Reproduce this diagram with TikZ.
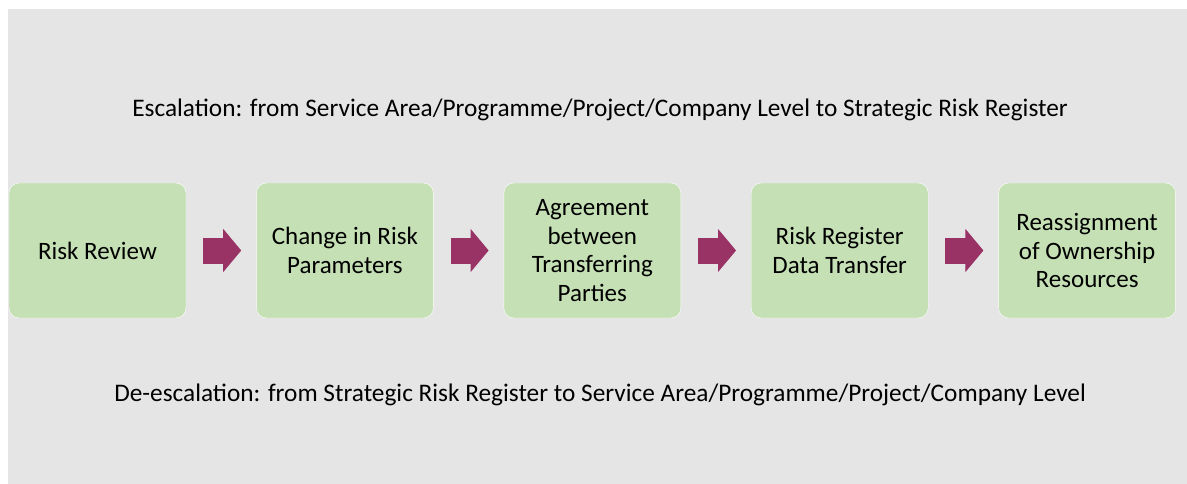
\documentclass[tikz,border=0pt]{standalone}
\usepackage{fontspec}
\setmainfont{Carlito}
\usetikzlibrary{positioning}
\usetikzlibrary{arrows.meta}

\definecolor{bggray}{RGB}{229,229,229}
\definecolor{boxgreen}{RGB}{197,224,180}
\definecolor{plum}{RGB}{153,51,102}

\begin{document}
\begin{tikzpicture}[
x=1pt,y=-1pt,
stage/.style={
	% The shape:
	rectangle,rounded corners=10pt,
	% The size:
	minimum width=177pt,minimum height=135pt,
	% The border:
	thin,draw=white,
	% The filling:
	fill=boxgreen,
	% Font
	align=center,font=\fontsize{25}{28.5}\selectfont},
banner/.style={anchor=base,font=\fontsize{25.3}{30}\selectfont},
push/.style={
	draw=plum,line width=26pt,
	-{Triangle[length=18pt,width=43pt,line width=1pt,fill=plum]},
	shorten <=17pt,shorten >=15pt},
node distance=70pt,
]

\useasboundingbox (0,0) rectangle (1187,484);
\fill[bggray] (8,9) rectangle (1187,484);

\node (review) [stage] at (97.5,250.5) {Risk Review};
\node (change) [stage,right=of review] {Change in Risk\\Parameters};
\node (agree) [stage,right=of change] {Agreement\\between\\Transferring\\Parties};
\node (transfer) [stage,right=of agree] {Risk Register\\Data Transfer};
\node (reassign) [stage,right=of transfer] {Reassignment\\of Ownership\\Resources};

\draw[push] (review) -- (change);
\draw[push] (change) -- (agree);
\draw[push] (agree) -- (transfer);
\draw[push] (transfer) -- (reassign);

\node (escalate) [banner] at (600,116.5) {Escalation: from Service Area/Programme/Project/Company Level to Strategic Risk Register};
\node (deescalate) [banner] at (600,401.5) {De-escalation: from Strategic Risk Register to Service Area/Programme/Project/Company Level};

\end{tikzpicture}
\end{document}
